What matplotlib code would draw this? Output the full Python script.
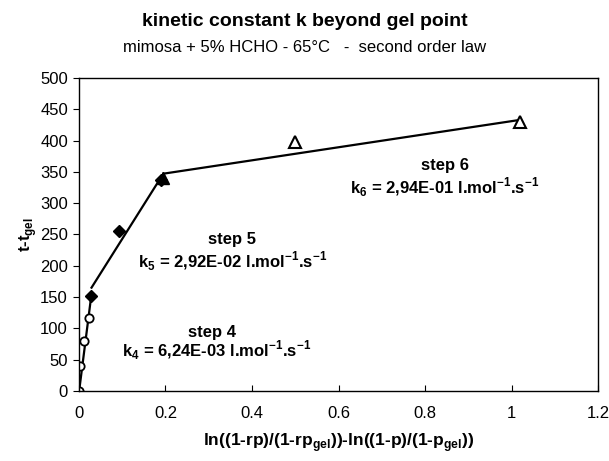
import matplotlib
matplotlib.use("Agg")
import matplotlib.pyplot as plt

plt.rcParams['font.family'] = ['Liberation Sans', 'DejaVu Sans']
plt.rcParams['mathtext.fontset'] = 'custom'
plt.rcParams['mathtext.rm'] = 'Liberation Sans'
plt.rcParams['mathtext.bf'] = 'Liberation Sans:bold'

# step 4 points (open circles)
step4_x = [0.0, 0.003, 0.011, 0.022]
step4_y = [0, 40, 79, 116]
# step 5 points (filled diamonds)
step5_x = [0.028, 0.092, 0.19]
step5_y = [152, 255, 337]
# step 6 start (filled triangle) and points (open triangles)
step6_start_x = [0.195]
step6_start_y = [340]
step6_x = [0.5, 1.02]
step6_y = [398, 430]

# fitted lines
fit4_x = [0.0, 0.028]
fit4_y = [-2, 150]
fit5_x = [0.029, 0.195]
fit5_y = [165, 347]
fit6_x = [0.195, 1.02]
fit6_y = [347, 433]

fig = plt.figure(figsize=(6.09, 4.61), dpi=100)
ax = fig.add_axes([0.1297, 0.152, 0.8523, 0.679])

ax.plot(fit4_x, fit4_y, color='black', lw=1.6)
ax.plot(fit5_x, fit5_y, color='black', lw=1.6)
ax.plot(fit6_x, fit6_y, color='black', lw=1.6)

ax.plot(step4_x, step4_y, 'o', mfc='white', mec='black', mew=1.3, ms=6, ls='none')
ax.plot(step5_x, step5_y, 'D', color='black', ms=6, ls='none')
ax.plot(step6_start_x, step6_start_y, '^', color='black', ms=8, ls='none')
ax.plot(step6_x, step6_y, '^', mfc='white', mec='black', mew=1.5, ms=8, ls='none')

ax.set_xlim(0, 1.2)
ax.set_ylim(0, 500)
ax.set_xticks([0, 0.2, 0.4, 0.6, 0.8, 1.0, 1.2])
ax.set_xticklabels(['0', '0.2', '0.4', '0.6', '0.8', '1', '1.2'])
ax.set_yticks(range(0, 501, 50))
ax.tick_params(axis='x', direction='in', length=4, labelsize=12, pad=11)
ax.tick_params(axis='y', direction='out', length=4, labelsize=12, pad=4)
for s in ax.spines.values():
    s.set_linewidth(1.0)

ax.set_xlabel(r'ln((1-rp)/(1-rp$_{\mathbf{gel}}$))-ln((1-p)/(1-p$_{\mathbf{gel}}$))',
              fontsize=12.5, fontweight='bold', labelpad=7)
ax.set_ylabel(r't-t$_{\mathbf{gel}}$', fontsize=12, fontweight='bold', labelpad=1)

# annotations
fs = 12
ax.text(0.846, 360, 'step 6', ha='center', va='center', fontsize=fs, fontweight='bold')
ax.text(0.846, 325, r'k$_{\mathbf{6}}$ = 2,94E-01 l.mol$^{\mathbf{-1}}$.s$^{\mathbf{-1}}$',
        ha='center', va='center', fontsize=fs, fontweight='bold')
ax.text(0.354, 242, 'step 5', ha='center', va='center', fontsize=fs, fontweight='bold')
ax.text(0.354, 207, r'k$_{\mathbf{5}}$ = 2,92E-02 l.mol$^{\mathbf{-1}}$.s$^{\mathbf{-1}}$',
        ha='center', va='center', fontsize=fs, fontweight='bold')
ax.text(0.307, 94, 'step 4', ha='center', va='center', fontsize=fs, fontweight='bold')
ax.text(0.317, 65, r'k$_{\mathbf{4}}$ = 6,24E-03 l.mol$^{\mathbf{-1}}$.s$^{\mathbf{-1}}$',
        ha='center', va='center', fontsize=fs, fontweight='bold')

fig.text(0.5, 1 - 22 / 461, 'kinetic constant k beyond gel point',
         ha='center', va='center', fontsize=14, fontweight='bold')
fig.text(0.5, 1 - 47 / 461, 'mimosa + 5% HCHO - 65°C   -  second order law',
         ha='center', va='center', fontsize=12)

fig.savefig('out.png', dpi=100)
